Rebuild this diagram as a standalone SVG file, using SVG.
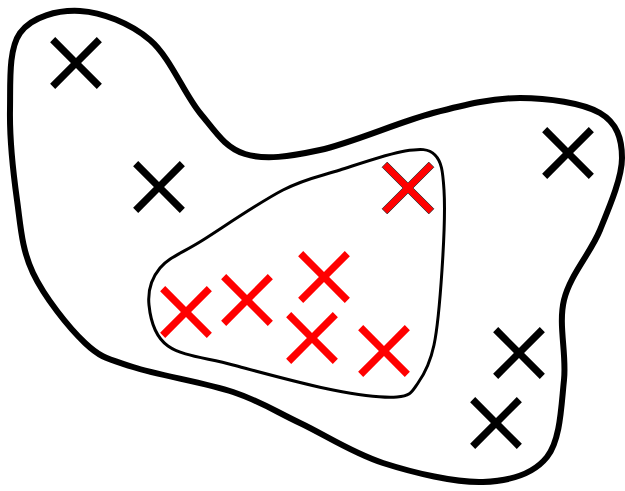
<svg xmlns="http://www.w3.org/2000/svg" xmlns:xlink="http://www.w3.org/1999/xlink" width="625" height="491" viewBox="0 0 625 491">
<style>
.outer{fill:none;stroke:#000;stroke-width:6;stroke-linejoin:round}
.inner{fill:none;stroke:#000;stroke-width:3;stroke-linejoin:round}
.blk{fill:#000}
.red{fill:#ff0000}
.redo{fill:#ff0000;stroke:#333;stroke-width:0.8}
</style>
<defs>
<polygon id="xm" transform="rotate(45)" points="3.6,-33 3.6,-3.6 33,-3.6 33,3.6 3.6,3.6 3.6,33 -3.6,33 -3.6,3.6 -33,3.6 -33,-3.6 -3.6,-3.6 -3.6,-33"/>
</defs>
<rect width="625" height="491" fill="#fff"/>
<g id="outer-region">
<path class="outer" d="M80,11 C101.7,12.2 130,23 150,40 C170,57 184.2,94 200,113 C215.8,132 225,147.8 245,154 C265,160.2 288.7,156.8 320,150 C351.3,143.2 399.7,121.7 433,113 C466.3,104.3 492.2,98 520,98 C547.8,98 583,103 600,113 C617,123 622,138.5 622,158 C622,177.5 609.7,206.3 600,230 C590.3,253.7 570,275 564,300 C558,325 566.8,353.8 564,380 C561.2,406.2 560.5,440 547,457 C533.5,474 510.3,481 483,482 C455.7,483 413.5,472.8 383,463 C352.5,453.2 325,434.8 300,423 C275,411.2 260.8,401.3 233,392 C205.2,382.7 157.7,375.2 133,367 C108.3,358.8 101.7,358.7 85,343 C68.3,327.3 44.3,296.8 33,273 C21.7,249.2 20.8,227.2 17,200 C13.2,172.8 9.5,137.8 10,110 C10.5,82.2 8.3,49.5 20,33 C31.7,16.5 58.3,9.8 80,11 Z"/>
</g>
<g id="inner-region">
<path class="inner" d="M149,305 C147.7,292 151,278.8 160,268 C169,257.2 182.5,253 203,240 C223.5,227 260.2,201.7 283,190 C305.8,178.3 319.7,176.5 340,170 C360.3,163.5 389.2,153.5 405,151 C420.8,148.5 428.5,148.5 435,155 C441.5,161.5 442.8,170.8 444,190 C445.2,209.2 443.7,244.2 442,270 C440.3,295.8 438,326.2 434,345 C430,363.8 424.2,374.3 418,383 C411.8,391.7 411.2,395.8 397,397 C382.8,398.2 360.3,395.3 333,390 C305.7,384.7 260.5,372.3 233,365 C205.5,357.7 182,356 168,346 C154,336 150.3,318 149,305 Z"/>
</g>
<g id="black-x-1"><use xlink:href="#xm" href="#xm" class="blk" x="76" y="63"/></g>
<g id="black-x-2"><use xlink:href="#xm" href="#xm" class="blk" x="159" y="187"/></g>
<g id="black-x-3"><use xlink:href="#xm" href="#xm" class="blk" x="568" y="153"/></g>
<g id="black-x-4"><use xlink:href="#xm" href="#xm" class="blk" x="519" y="353"/></g>
<g id="black-x-5"><use xlink:href="#xm" href="#xm" class="blk" x="496" y="423"/></g>
<g id="red-x-1"><use xlink:href="#xm" href="#xm" class="redo" x="408" y="188"/></g>
<g id="red-x-2"><use xlink:href="#xm" href="#xm" class="red" x="324" y="277"/></g>
<g id="red-x-3"><use xlink:href="#xm" href="#xm" class="red" x="186" y="312"/></g>
<g id="red-x-4"><use xlink:href="#xm" href="#xm" class="red" x="247" y="300"/></g>
<g id="red-x-5"><use xlink:href="#xm" href="#xm" class="red" x="312" y="338"/></g>
<g id="red-x-6"><use xlink:href="#xm" href="#xm" class="red" x="384" y="351"/></g>
<g id="connectors"></g>
</svg>
